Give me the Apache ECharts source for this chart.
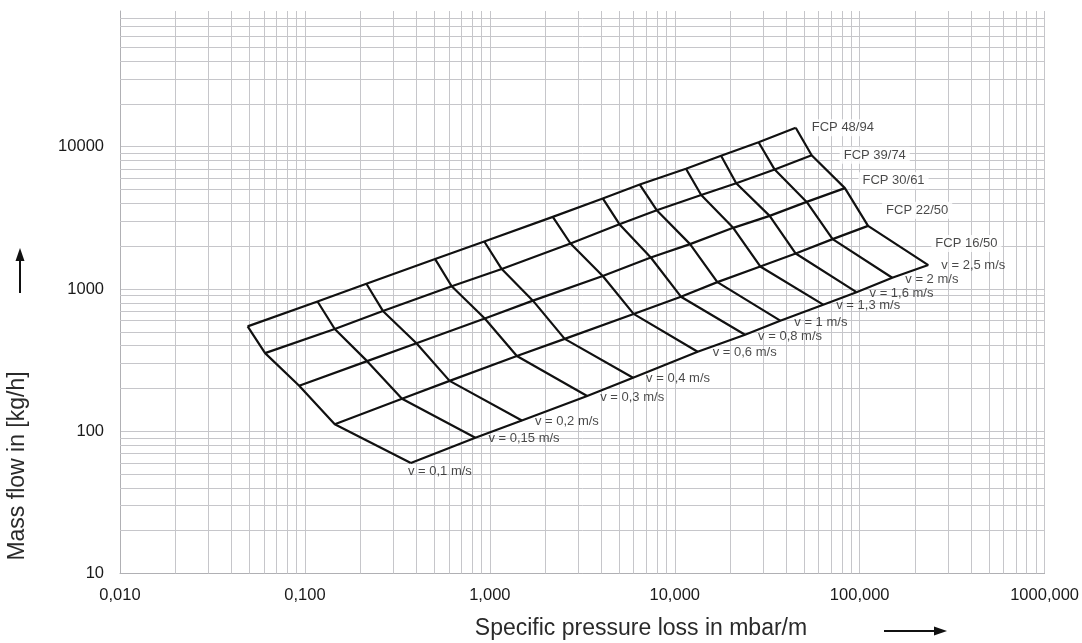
<!DOCTYPE html>
<html><head><meta charset="utf-8">
<script src="https://cdn.jsdelivr.net/npm/echarts@6/dist/echarts.min.js"></script>
<style>html,body{margin:0;padding:0;background:#fff}#c{width:1082px;height:643px}</style>
</head><body><div id="c"></div>
<script>
// ---------- data ----------
const pipeNames = ['FCP 16/50', 'FCP 22/50', 'FCP 30/61', 'FCP 39/74', 'FCP 48/94'];
const velocityLabels = ['0,1', '0,15', '0,2', '0,3', '0,4', '0,6', '0,8', '1', '1,3', '1,6', '2', '2,5'];

// specific pressure loss [mbar/m] per velocity, for each pipe
const dp_16_50 = [0.374, 0.835, 1.49, 3.36, 5.95, 13.3, 24.0, 37.2, 63.5, 96.1, 150, 235];
const dp_22_50 = [0.145, 0.335, 0.606, 1.40, 2.54, 5.99, 10.8, 17.0, 29.0, 45.1, 71.4, 111];
const dp_30_61 = [0.0931, 0.217, 0.401, 0.939, 1.71, 4.08, 7.42, 12.1, 20.7, 32.6, 51.7, 83.2];
const dp_39_74 = [0.0609, 0.145, 0.264, 0.622, 1.16, 2.73, 5.02, 7.99, 13.9, 21.5, 34.7, 55.0];
const dp_48_94 = [0.0490, 0.117, 0.215, 0.506, 0.933, 2.19, 4.08, 6.47, 11.5, 17.8, 28.4, 45.1];

// mass flow [kg/h] per velocity, for each pipe
const flow_16_50 = [59.8, 89.9, 119, 177, 238, 362, 477, 599, 776, 950, 1200, 1473];
const flow_22_50 = [112, 169, 226, 338, 446, 668, 883, 1118, 1440, 1776, 2242, 2779];
const flow_30_61 = [209, 311, 416, 621, 828, 1234, 1666, 2068, 2691, 3266, 4095, 5117];
const flow_39_74 = [354, 523, 701, 1046, 1381, 2088, 2856, 3581, 4584, 5538, 6909, 8704];
const flow_48_94 = [546, 817, 1089, 1623, 2157, 3214, 4331, 5423, 7010, 8648, 10755, 13590];

const xTickLabels = ['0,010', '0,100', '1,000', '10,000', '100,000', '1000,000'];
const yTickLabels = ['10', '100', '1000', '10000'];

const xTitle = 'Specific pressure loss in mbar/m';
const yTitle = 'Mass flow in [kg/h]';

// ---------- styling ----------
const FONT = "'Liberation Sans', Arial, Helvetica, sans-serif";
const GRID_COLOR = '#c6c6ca';
const AXIS_COLOR = '#b0b0b4';
const MESH_COLOR = '#111111';
const fcpLabelOffsets = [[-5, -21.5], [6, -15.5], [5.5, -7.5], [20, 0], [4, 0]];
const vLabelOffsets = [[-16, 8], [0, 1], [0, 1], [0, 1], [0, 1], [2, 1], [0, 2], [1, 2], [0, 1], [0, 1], [0, 2], [0, 0]];

const pipeDp = [dp_16_50, dp_22_50, dp_30_61, dp_39_74, dp_48_94];
const pipeFlow = [flow_16_50, flow_22_50, flow_30_61, flow_39_74, flow_48_94];

const series = [];

// minor log grid lines (2..9 x decade) through markLines on the axes
const xMinor = [], yMinor = [];
for (let e = -2; e < 3; e++) for (let m = 2; m <= 9; m++) xMinor.push({ xAxis: +(m * Math.pow(10, e)).toPrecision(6) });
for (let e = 1; e < 5; e++) for (let m = 2; m <= 9; m++) {
  const v = m * Math.pow(10, e);
  if (v < 90000) yMinor.push({ yAxis: v });
}
series.push({
  type: 'line', name: 'grid', data: [], z: 1, silent: true,
  markLine: {
    silent: true, symbol: ['none', 'none'], animation: false,
    label: { show: false },
    lineStyle: { color: GRID_COLOR, width: 1, type: 'solid' },
    emphasis: { disabled: true },
    data: xMinor.concat(yMinor)
  }
});

// pipe lines
pipeNames.forEach((name, p) => {
  series.push({
    type: 'line', name: name, z: 5, showSymbol: false, silent: true,
    lineStyle: { color: MESH_COLOR, width: 2.2, join: 'miter' },
    data: pipeDp[p].map((x, i) => [x, pipeFlow[p][i]])
  });
});
// velocity lines
velocityLabels.forEach((v, j) => {
  series.push({
    type: 'line', name: 'v' + v, z: 5, showSymbol: false, silent: true,
    lineStyle: { color: MESH_COLOR, width: 2.2 },
    data: pipeNames.map((_, p) => [pipeDp[p][j], pipeFlow[p][j]])
  });
});
// FCP labels at end of each pipe line
series.push({
  type: 'scatter', z: 6, silent: true, symbolSize: 0.1,
  itemStyle: { color: 'rgba(0,0,0,0)' },
  data: pipeNames.map((name, p) => ({
    value: [pipeDp[p][11], pipeFlow[p][11]],
    label: {
      show: true, formatter: name, position: 'right', distance: 8,
      offset: fcpLabelOffsets[p], color: '#1a1a1a', fontFamily: FONT, fontSize: 13,
      backgroundColor: '#fff', padding: [2, 4]
    }
  }))
});
// velocity labels at the FCP 16/50 line
series.push({
  type: 'scatter', z: 6, silent: true, symbolSize: 0.1,
  itemStyle: { color: 'rgba(0,0,0,0)' },
  data: velocityLabels.map((v, j) => ({
    value: [pipeDp[0][j], pipeFlow[0][j]],
    label: {
      show: true, formatter: 'v = ' + v + ' m/s', position: 'right', distance: 13,
      offset: vLabelOffsets[j], color: '#1a1a1a', fontFamily: FONT, fontSize: 13
    }
  }))
});

function decadeIndex(v) {
  const l = Math.log10(v);
  const r = Math.round(l);
  return Math.abs(l - r) < 1e-6 ? r : null;
}

const option = {
  animation: false,
  backgroundColor: '#fff',
  grid: { left: 120, right: 33, top: 11, bottom: 69.5, containLabel: false },
  xAxis: {
    type: 'log', logBase: 10, min: 0.01, max: 1000,
    axisLine: { show: true, lineStyle: { color: AXIS_COLOR, width: 1 } },
    axisTick: { show: false },
    splitLine: { show: true, lineStyle: { color: GRID_COLOR, width: 1 } },
    axisLabel: {
      margin: 13, color: '#1a1a1a', fontFamily: FONT, fontSize: 16.5,
      showMinLabel: true, showMaxLabel: true, hideOverlap: false,
      formatter: v => { const d = decadeIndex(v); return d === null ? '' : (xTickLabels[d + 2] || ''); }
    }
  },
  yAxis: {
    type: 'log', logBase: 10, min: 10, max: 90000,
    axisLine: { show: true, lineStyle: { color: AXIS_COLOR, width: 1 } },
    axisTick: { show: false },
    splitLine: { show: true, showMaxLine: false, lineStyle: { color: GRID_COLOR, width: 1 } },
    axisLabel: {
      margin: 16, color: '#1a1a1a', fontFamily: FONT, fontSize: 16.5, showMaxLabel: false,
      formatter: v => { const d = decadeIndex(v); return d === null ? '' : (yTickLabels[d - 1] || ''); }
    }
  },
  graphic: [
    { type: 'text', x: 641, y: 629, silent: true,
      style: { text: xTitle, fontFamily: FONT, fontSize: 23, fill: '#2a2a2a', align: 'center', verticalAlign: 'middle' } },
    { type: 'text', x: 18, y: 466, rotation: Math.PI / 2, silent: true,
      style: { text: yTitle, fontFamily: FONT, fontSize: 23, fill: '#2a2a2a', align: 'center', verticalAlign: 'middle' } },
    { type: 'line', silent: true, shape: { x1: 20, y1: 293, x2: 20, y2: 258 }, style: { stroke: '#111', lineWidth: 2 } },
    { type: 'polygon', silent: true, shape: { points: [[20, 248], [15.5, 261], [24.5, 261]] }, style: { fill: '#111' } },
    { type: 'line', silent: true, shape: { x1: 884, y1: 631, x2: 936, y2: 631 }, style: { stroke: '#111', lineWidth: 2 } },
    { type: 'polygon', silent: true, shape: { points: [[947, 631], [934, 626.5], [934, 635.5]] }, style: { fill: '#111' } }
  ],
  series: series
};

const chart = echarts.init(document.getElementById('c'), null, { renderer: 'canvas' });
chart.setOption(option);
</script>
</body></html>
